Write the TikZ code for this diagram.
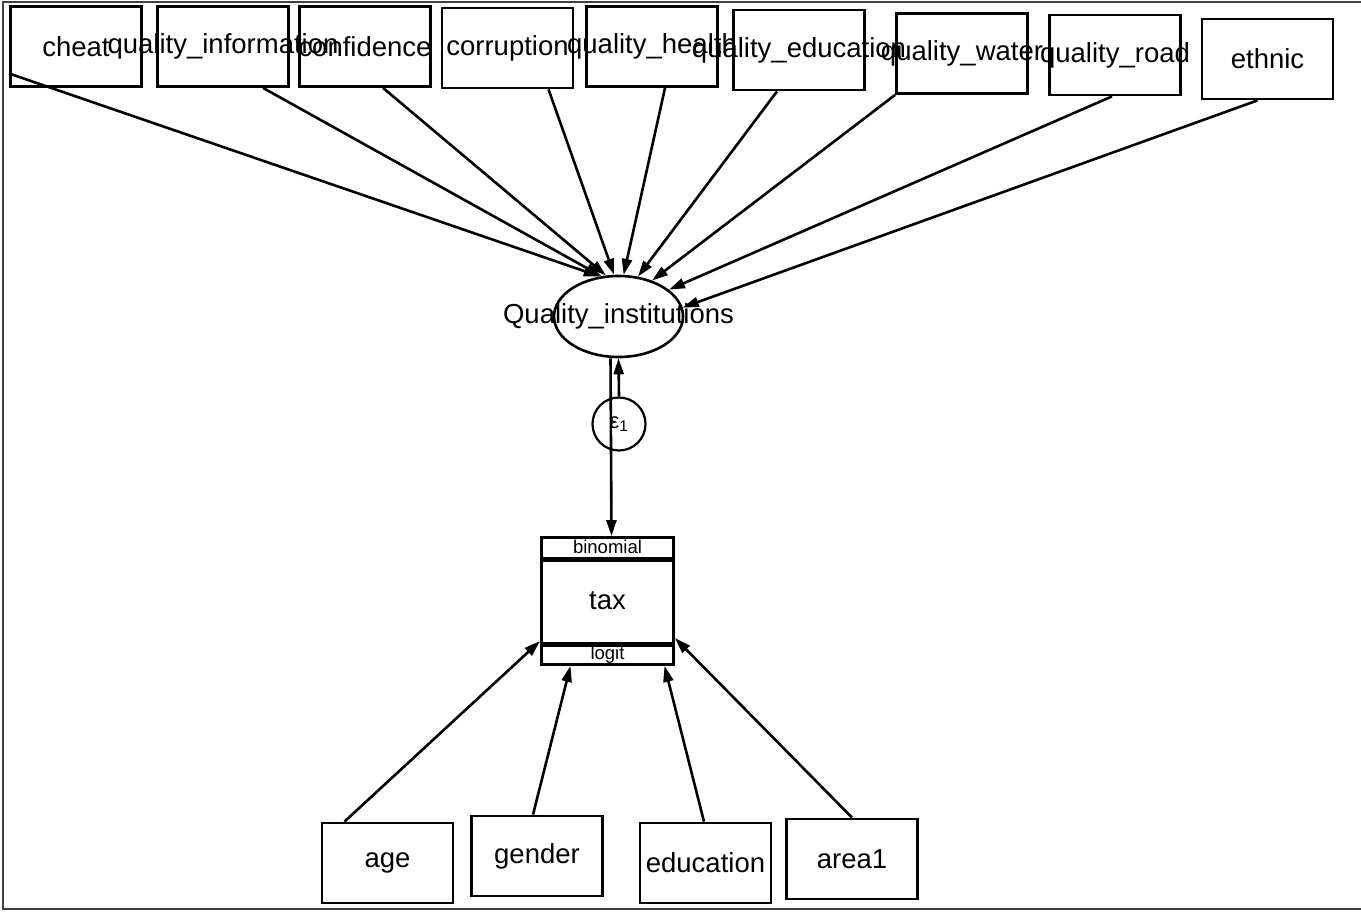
\documentclass[tikz,border=0pt]{standalone}
\usepackage{fontspec}
\setmainfont{Liberation Sans}
\usetikzlibrary{shapes.geometric,arrows.meta}

\begin{document}
\begin{tikzpicture}[x=1bp,y=-1bp]
	\tikzstyle{every node}+=[inner sep=0pt]
	\tikzstyle{obs}=[draw, line width=2.8bp, minimum width=131bp, minimum height=80bp, font=\fontsize{27.5bp}{30bp}\selectfont]
	\tikzstyle{lat}=[draw, ellipse, line width=2.6bp, minimum width=129bp, minimum height=81bp, font=\fontsize{27.5bp}{30bp}\selectfont]
	\tikzstyle{coef}=[line width=2.6bp, -{Triangle[length=16bp,width=10bp]}]
	\useasboundingbox (0,0) rectangle (1361,912);
	\draw [black!75, line width=1.8bp] (1361,2) -- (3,2) -- (3,909) -- (1361,909);

	% exogenous variables, top row
	\node [obs] (cheat) at (76,46.5) {\makebox[0pt]{cheat}};
	\node [obs] (qinfo) at (223,46.5) {\makebox[0pt]{quality\_information}};
	\node [obs] (conf) at (365,46.5) {\makebox[0pt]{confidence}};
	\node [obs] (corr) at (507.5,48) {\makebox[0pt]{corruption}};
	\node [obs] (qhealth) at (652,46.5) {\makebox[0pt]{quality\_health}};
	\node [obs] (qedu) at (799,50) {\makebox[0pt]{quality\_education}};
	\node [obs] (qwater) at (962,53.5) {\makebox[0pt]{quality\_water}};
	\node [obs] (qroad) at (1115,55) {\makebox[0pt]{quality\_road}};
	\node [obs] (ethnic) at (1267.5,59) {\makebox[0pt]{ethnic}};

	% latent variable and its error
	\node [lat] (qi) at (618.5,316.5) {\makebox[0pt]{Quality\_institutions}};
	\node [draw, circle, line width=2.2bp, minimum size=53bp, font=\fontsize{22bp}{24bp}\selectfont] (eps) at (619,424) {ε\textsubscript{1}};

	% outcome
	\node [draw, line width=2.8bp, minimum width=132bp, minimum height=127bp, font=\fontsize{27.5bp}{30bp}\selectfont] (tax) at (607.5,601) {tax};
	\node [font=\fontsize{18.5bp}{20bp}\selectfont] (family) at (607.5,547) {binomial};
	\node [font=\fontsize{18.5bp}{20bp}\selectfont] (linkf) at (607.5,655) {logit};
	\draw [line width=5bp] ([yshift=-23bp]tax.north west) -- ([yshift=-23bp]tax.north east);
	\draw [line width=5bp] ([yshift=21.5bp]tax.south west) -- ([yshift=21.5bp]tax.south east);

	% controls, bottom row
	\node [obs] (age) at (387.5,863) {\makebox[0pt]{age}};
	\node [obs] (gender) at (537,856) {\makebox[0pt]{gender}};
	\node [obs] (educ) at (705.5,863) {\makebox[0pt]{education}};
	\node [obs] (area) at (852,859) {\makebox[0pt]{area1}};

	\draw [coef] ([yshift=-27bp]cheat.west) -- (qi.115);
	\draw [coef] ([xshift=40bp]qinfo.south) -- (qi.113);
	\draw [coef] ([xshift=18bp]conf.south) -- (qi.107);
	\draw [coef] ([xshift=41bp]corr.south) -- (qi.96);
	\draw [coef] ([xshift=13bp]qhealth.south) -- (qi.83);
	\draw [coef] ([xshift=-22bp]qedu.south) -- (qi.64);
	\draw [coef] (qwater.south west) -- (qi.47);
	\draw [coef] ([xshift=-3bp]qroad.south) -- (qi.28);
	\draw [coef] ([xshift=-10bp]ethnic.south) -- (qi.8);

	\draw [coef] (eps.north) -- (qi.south);
	\draw [coef] ([xshift=-8bp]qi.south) -- ([xshift=4bp]tax.north);

	\draw [coef] ([xshift=-43bp]age.north) -- ([yshift=-40bp]tax.west);
	\draw [coef] ([xshift=-4bp]gender.north) -- ([xshift=-37bp]tax.south);
	\draw [coef] ([xshift=-1.5bp]educ.north) -- ([xshift=57bp]tax.south);
	\draw [coef] (area.north) -- ([yshift=-37bp]tax.east);
\end{tikzpicture}
\end{document}
